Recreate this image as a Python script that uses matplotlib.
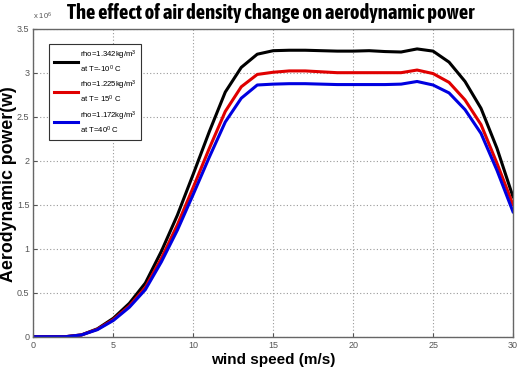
import matplotlib
matplotlib.use("Agg")
import matplotlib.pyplot as plt
from matplotlib import font_manager
from matplotlib.ticker import FuncFormatter, MultipleLocator

wind_speed = list(range(0, 31))
p_black = [0, 0, 0, 0.02, 0.09, 0.21, 0.38, 0.61, 0.97, 1.38, 1.85, 2.33, 2.78, 3.06, 3.21,
           3.25, 3.255, 3.255, 3.25, 3.245, 3.245, 3.25, 3.24, 3.235, 3.27, 3.245, 3.12, 2.90,
           2.595, 2.14, 1.59]
p_red = [0, 0, 0, 0.02, 0.085, 0.195, 0.35, 0.56, 0.89, 1.27, 1.70, 2.14, 2.56, 2.84, 2.98,
         3.005, 3.02, 3.02, 3.01, 3.0, 3.0, 3.0, 3.0, 3.0, 3.03, 2.99, 2.89, 2.69,
         2.41, 1.97, 1.50]
p_blue = [0, 0, 0, 0.02, 0.08, 0.185, 0.335, 0.535, 0.85, 1.21, 1.62, 2.04, 2.44, 2.71, 2.86,
          2.87, 2.875, 2.875, 2.87, 2.865, 2.865, 2.865, 2.865, 2.87, 2.90, 2.86, 2.77, 2.58,
          2.31, 1.89, 1.42]
labels = ["rho=1.342kg/m$^3$\nat T=-10$^0$ C",
          "rho=1.225kg/m$^3$\nat T= 15$^0$ C",
          "rho=1.172kg/m$^3$\nat T=40$^0$ C"]
colors = ["black", "#e00000", "#0000e0"]
scale = 1e6

base = "Liberation Sans"
bold_narrow = [f.name for f in font_manager.fontManager.ttflist
               if ("Narrow" in f.name or "Condensed" in f.name)
               and (f.weight in ("bold", 700) or (isinstance(f.weight, int) and f.weight >= 700))]
title_font = bold_narrow[0] if bold_narrow else base
plt.rcParams['mathtext.fontset'] = 'custom'
plt.rcParams['mathtext.rm'] = base
plt.rcParams['mathtext.it'] = base

fig = plt.figure(figsize=(5.25, 3.72), dpi=100)
ax = fig.add_axes([0.0638, 0.0949, 0.9133, 0.828])

for series, c, lab in zip([p_black, p_red, p_blue], colors, labels):
    ax.plot(wind_speed, [v * scale for v in series], color=c, lw=2.2, label=lab)

ax.set_xlim(0, 30)
ax.set_ylim(0, 3.5e6)
ax.xaxis.set_major_locator(MultipleLocator(5))
ax.yaxis.set_major_locator(MultipleLocator(0.5e6))
ax.yaxis.set_major_formatter(FuncFormatter(lambda v, p: "%g" % (v / scale)))
ax.grid(True, linestyle=(0, (1, 2)), color="#999999", lw=0.8)
ax.tick_params(direction="in", length=3, labelsize=6.5, colors="#555555", pad=3)
for lab in ax.get_xticklabels() + ax.get_yticklabels():
    lab.set_family(base)
for s in ax.spines.values():
    s.set_color("#666666")
    s.set_linewidth(1.0)

ax.text(0.0, 1.022, "x 10$^6$", transform=ax.transAxes, fontsize=5.5, color="#555555",
        family=base, ha="left", va="bottom")

title = fig.text(0.515, 0.964, "The effect of air density change on aerodynamic power",
                 fontsize=13.5, fontweight="bold", family=title_font, ha="center", va="center")
ax.set_xlabel("wind speed (m/s)", fontsize=11, fontweight="bold", family=base,
              labelpad=2)
ax.set_ylabel("Aerodynamic power(w)", fontsize=12.8, fontweight="bold", family=base)
ax.yaxis.set_label_coords(-0.035, 0.494)

leg = ax.legend(loc="upper left", bbox_to_anchor=(0.032, 0.95), prop={"family": base, "size": 5.6},
                handlelength=3.2, handletextpad=0.2, labelspacing=0.5, borderpad=0.6,
                fancybox=False, framealpha=1, edgecolor="#333333", borderaxespad=0)
leg.get_frame().set_linewidth(0.8)

# fit title width to the reference's ~407 px
fig.canvas.draw()
w = title.get_window_extent().width
title.set_fontsize(13.5 * 407.0 / w)

fig.savefig("out.png", dpi=100)
